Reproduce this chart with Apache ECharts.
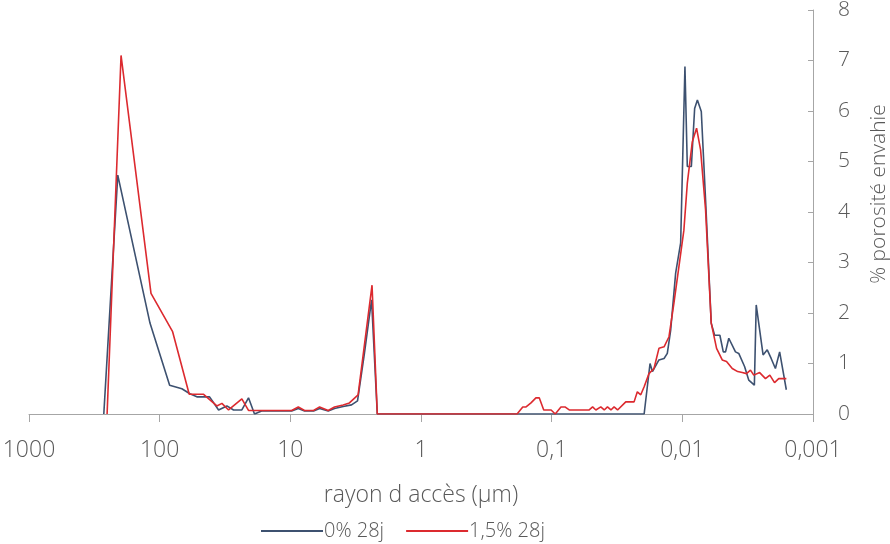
<!DOCTYPE html>
<html><head><meta charset="utf-8">
<script src="https://cdn.jsdelivr.net/npm/echarts@6/dist/echarts.min.js"></script>
<style>html,body{margin:0;padding:0;background:#fff}#c{width:890px;height:544px}</style>
</head><body><div id="c"></div>
<script>
const seriesNames = ['0% 28j', '1,5% 28j'];
const xTickLabels = ['1000', '100', '10', '1', '0,1', '0,01', '0,001'];
const rayon0 = [267.6, 209.2, 118.6, 83.9, 67.6, 58.7, 51.9, 41.5, 35.4, 30.6, 27.2, 23.5, 20.9, 18.8, 16.6, 9.77, 8.69, 7.78, 6.64, 5.97, 5.13, 4.59, 3.94, 3.40, 3.06, 2.71, 2.39, 2.16, 0.0196, 0.01767, 0.01694, 0.0151, 0.0138, 0.01303, 0.01228, 0.01125, 0.0103, 0.00955, 0.00916, 0.00853, 0.00805, 0.00767, 0.00716, 0.00664, 0.00601, 0.00566, 0.00516, 0.00486, 0.00467, 0.00441, 0.00392, 0.0037, 0.00334, 0.0031, 0.00281, 0.00272, 0.00241, 0.00224, 0.00209, 0.00194, 0.0018, 0.0016];
const por0 = [0, 4.73, 1.8, 0.57, 0.5, 0.4, 0.34, 0.34, 0.08, 0.16, 0.08, 0.08, 0.32, 0, 0.06, 0.06, 0.11, 0.06, 0.06, 0.11, 0.06, 0.11, 0.15, 0.18, 0.26, 1.2, 2.26, 0, 0, 1.0, 0.84, 1.07, 1.1, 1.2, 1.66, 2.79, 3.39, 6.88, 4.9, 4.9, 6.05, 6.22, 5.99, 4.24, 1.8, 1.56, 1.56, 1.23, 1.23, 1.5, 1.23, 1.2, 0.94, 0.67, 0.57, 2.16, 1.17, 1.27, 1.1, 0.9, 1.23, 0.48];
const rayon15 = [252.5, 197.5, 116.5, 79.6, 59.4, 46.1, 36.5, 33.4, 29.7, 23.5, 20.9, 16.6, 9.77, 8.69, 7.78, 6.64, 5.97, 5.13, 4.59, 3.94, 3.53, 3.03, 2.37, 2.16, 0.184, 0.1664, 0.157, 0.144, 0.132, 0.1245, 0.115, 0.101, 0.0939, 0.0849, 0.0791, 0.0734, 0.0516, 0.0486, 0.0459, 0.0421, 0.0396, 0.0374, 0.0352, 0.0333, 0.0313, 0.0305, 0.0271, 0.0234, 0.0221, 0.0208, 0.0196, 0.018, 0.01648, 0.0151, 0.0138, 0.01265, 0.01159, 0.01062, 0.00973, 0.00916, 0.00839, 0.00778, 0.00725, 0.00664, 0.00601, 0.00547, 0.00495, 0.00459, 0.00415, 0.00377, 0.00348, 0.00323, 0.00301, 0.00284, 0.00256, 0.00231, 0.00214, 0.00197, 0.00183, 0.0016];
const por15 = [0, 7.1, 2.39, 1.63, 0.39, 0.39, 0.16, 0.21, 0.08, 0.3, 0.07, 0.07, 0.07, 0.14, 0.07, 0.07, 0.14, 0.07, 0.14, 0.18, 0.22, 0.38, 2.55, 0, 0, 0.14, 0.14, 0.22, 0.32, 0.32, 0.08, 0.08, 0, 0.14, 0.14, 0.08, 0.08, 0.14, 0.08, 0.14, 0.08, 0.14, 0.08, 0.14, 0.08, 0.08, 0.24, 0.24, 0.44, 0.38, 0.54, 0.8, 0.9, 1.3, 1.33, 1.53, 2.2, 2.92, 3.64, 4.57, 5.39, 5.66, 5.23, 4.04, 1.8, 1.3, 1.07, 1.04, 0.9, 0.84, 0.82, 0.8, 0.87, 0.77, 0.82, 0.7, 0.77, 0.62, 0.7, 0.7];

const zip = (xs, ys) => xs.map((x, i) => [x, ys[i]]);
const FONT = '"Open Sans", "Segoe UI", sans-serif';
const grayText = '#595959';
const axisGray = '#a6a6a6';
const blue = '#3d5170';
const red = '#dc2a2f';

const chart = echarts.init(document.getElementById('c'), null, {renderer: 'canvas'});
chart.setOption({
  animation: false,
  backgroundColor: '#fff',
  grid: {left: 29, right: 77, top: 10, bottom: 130, containLabel: false, outerBoundsMode: 'none'},
  xAxis: {
    type: 'log', logBase: 10, min: 0.001, max: 1000, inverse: true,
    name: 'rayon d accès (µm)', nameLocation: 'middle', nameGap: 70,
    nameTextStyle: {fontFamily: FONT, fontSize: 23, color: grayText, fontWeight: 300},
    axisLine: {show: true, lineStyle: {color: axisGray, width: 1}},
    axisTick: {show: true, length: 8, lineStyle: {color: axisGray}},
    minorTick: {show: false},
    splitLine: {show: false},
    axisLabel: {
      fontFamily: FONT, fontSize: 23, color: grayText, fontWeight: 300, margin: 25,
      formatter: function (v) {
        const k = Math.round(3 - Math.log10(v));
        return xTickLabels[k] !== undefined ? xTickLabels[k] : '';
      }
    }
  },
  yAxis: {
    type: 'value', position: 'right', min: 0, max: 8, interval: 1,
    name: '% porosité envahie', nameLocation: 'middle', nameGap: 56, nameRotate: 90,
    nameTextStyle: {fontFamily: FONT, fontSize: 21, color: grayText, fontWeight: 300, padding: [0, 0, 0, 36]},
    axisLine: {show: true, lineStyle: {color: axisGray, width: 1}},
    axisTick: {show: true, inside: true, length: 5, lineStyle: {color: axisGray}},
    splitLine: {show: false},
    axisLabel: {fontFamily: FONT, fontSize: 21, color: grayText, fontWeight: 300, margin: 25}
  },
  legend: {
    left: 256, top: 516, itemGap: 22, itemWidth: 62, itemHeight: 2, icon: 'rect',
    textStyle: {fontFamily: FONT, fontSize: 20, color: grayText, fontWeight: 300, padding: [0, 0, 0, -4]},
    data: seriesNames
  },
  series: [
    {name: seriesNames[0], type: 'line', data: zip(rayon0, por0), symbol: 'none',
     lineStyle: {color: blue, width: 1.6}, itemStyle: {color: blue}},
    {name: seriesNames[1], type: 'line', data: zip(rayon15, por15), symbol: 'none',
     lineStyle: {color: red, width: 1.6}, itemStyle: {color: red}}
  ]
});
</script></body></html>
